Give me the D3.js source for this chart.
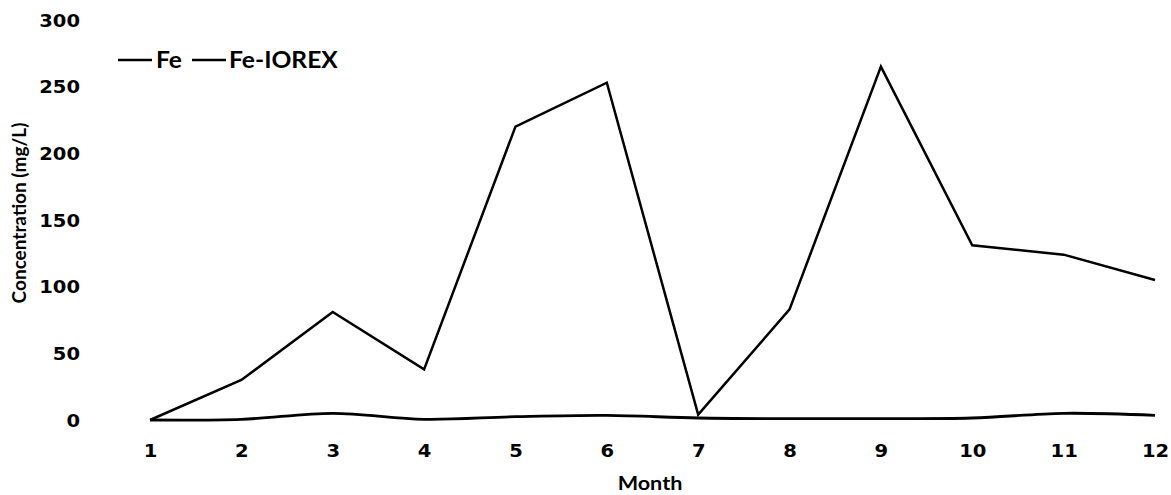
<!DOCTYPE html>
<html>
<head>
<meta charset="utf-8">
<script src="https://cdn.jsdelivr.net/npm/d3@7"></script>
<style>
  html, body { margin: 0; padding: 0; background: #fff; }
  svg { display: block; }
</style>
</head>
<body>
<svg id="chart" width="1171" height="495"></svg>
<script>
const months = [1, 2, 3, 4, 5, 6, 7, 8, 9, 10, 11, 12];
const feValues = [0, 30, 81, 38, 220, 253, 4, 83, 265, 131, 124, 105];
const feIorexValues = [0, 0.5, 5, 0.5, 2.5, 3.5, 1.5, 1, 1, 1.5, 5, 3.5];
const yTicks = [0, 50, 100, 150, 200, 250, 300];
const seriesNames = ["Fe", "Fe-IOREX"];

const svg = d3.select("#chart");
const margin = { left: 150, right: 16, top: 20, bottom: 75 };
const W = 1171, H = 495;
const stretch = 1.15; // horizontal stretch seen in the reference text

const x = d3.scaleLinear().domain([1, 12]).range([margin.left, W - margin.right]);
const y = d3.scaleLinear().domain([0, 300]).range([H - margin.bottom, margin.top]);

const tickFont = "'DejaVu Sans', Verdana, sans-serif";
const titleFont = "Lato, 'Open Sans', sans-serif";

// Y axis (labels only)
const yAxis = d3.axisLeft(y).tickValues(yTicks).tickSize(0).tickPadding(0);
const gy = svg.append("g").attr("transform", `translate(80,0)`).call(yAxis);
gy.select(".domain").remove();
gy.selectAll("text")
  .attr("font-family", tickFont).attr("font-weight", "bold")
  .attr("font-size", 17).attr("fill", "#000").attr("dy", "0.36em")
  .attr("transform", `scale(${stretch},1)`);

// X axis (labels only)
const xAxis = d3.axisBottom(x).tickValues(months).tickSize(0).tickPadding(0).tickFormat(d3.format("d"));
const gx = svg.append("g").attr("transform", `translate(0,445)`).call(xAxis);
gx.select(".domain").remove();
gx.selectAll("text")
  .attr("font-family", tickFont).attr("font-weight", "bold")
  .attr("font-size", 17).attr("fill", "#000").attr("dy", "0.71em")
  .attr("transform", `scale(${stretch},1)`);

// Axis titles
svg.append("text")
  .attr("transform", `translate(650,490) scale(1.2,1)`)
  .attr("text-anchor", "middle")
  .attr("font-family", titleFont).attr("font-weight", "bold")
  .attr("font-size", 18).attr("fill", "#000")
  .text("Month");

svg.append("text")
  .attr("transform", "translate(26,213) rotate(-90)")
  .attr("text-anchor", "middle")
  .attr("font-family", titleFont).attr("font-weight", "bold")
  .attr("font-size", 19).attr("fill", "#000")
  .text("Concentration (mg/L)");

// Lines
const feLine = d3.line()
  .x((d, i) => x(months[i]))
  .y(d => y(d));
const iorexLine = d3.line()
  .x((d, i) => x(months[i]))
  .y(d => y(d))
  .curve(d3.curveCatmullRom.alpha(0.5));

svg.append("path")
  .datum(feIorexValues)
  .attr("d", iorexLine)
  .attr("fill", "none").attr("stroke", "#000").attr("stroke-width", 2.8)
  .attr("stroke-linejoin", "round");

svg.append("path")
  .datum(feValues)
  .attr("d", feLine)
  .attr("fill", "none").attr("stroke", "#000").attr("stroke-width", 2.5)
  .attr("stroke-linejoin", "miter");

// Legend
const legendY = 60;
const legend = [
  { name: seriesNames[0], x1: 118, x2: 152, tx: 156 },
  { name: seriesNames[1], x1: 192, x2: 226, tx: 229 }
];
legend.forEach(l => {
  svg.append("line")
    .attr("x1", l.x1).attr("x2", l.x2).attr("y1", legendY).attr("y2", legendY)
    .attr("stroke", "#000").attr("stroke-width", 2.5);
  svg.append("text")
    .attr("transform", `translate(${l.tx},${legendY}) scale(1.12,1)`)
    .attr("dy", "0.35em")
    .attr("font-family", titleFont).attr("font-weight", "bold")
    .attr("font-size", 22).attr("fill", "#000")
    .text(l.name);
});
</script>
</body>
</html>
